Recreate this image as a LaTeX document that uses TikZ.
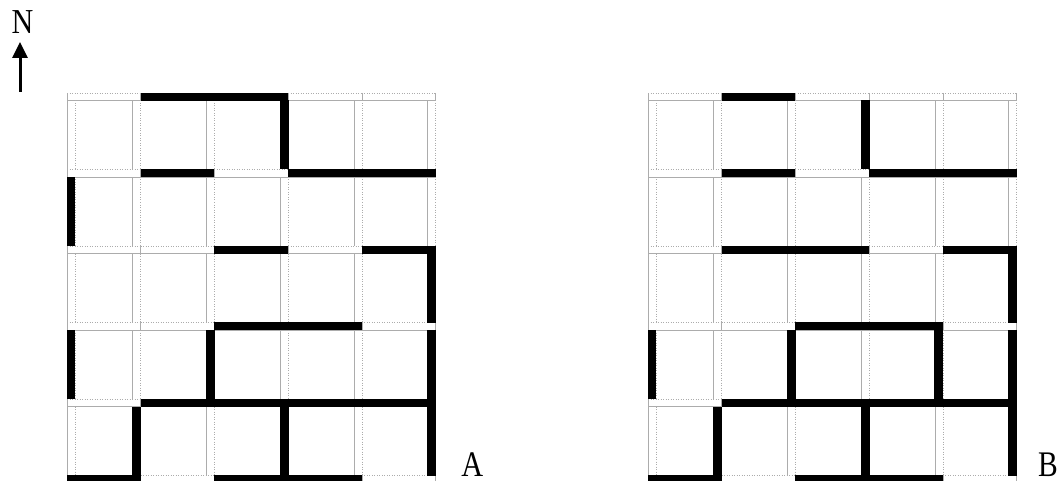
\documentclass[tikz,border=0pt]{standalone}
\usepackage{fontspec}
\setmainfont{Liberation Serif}
\usetikzlibrary{arrows.meta}
\tikzset{
  edgeS/.style={draw=gray!65, line width=0.5pt},
  edgeD/.style={draw=gray!65, line width=0.5pt, dotted},
  wallblack/.style={fill=black},
  lblN/.style={inner sep=0pt, anchor=base, font=\fontsize{35}{40}\selectfont},
  lblAB/.style={inner sep=0pt, anchor=base, font=\fontsize{36}{40}\selectfont},
  northarrow/.style={line width=3pt, -{Triangle[length=16pt,width=15pt]}},
}
\newcommand\mazegrid[3]{%
  % white vertical walls
  \foreach \i in {0,...,5}{\foreach \j in {0,...,4}{
    \pgfmathsetmacro\xa{#1+73.7*\i-ifthenelse(\i>0,8,0)}
    \pgfmathsetmacro\xb{\xa+8}
    \pgfmathsetmacro\ya{93+76.5*\j+7.5}
    \pgfmathsetmacro\yb{93+76.5*(\j+1)}
    \fill[white] (\xa,\ya) rectangle (\xb,\yb);
    \draw[edgeS] (\xa,\ya) -- (\xa,\yb);
    \draw[edgeD] (\xb,\ya) -- (\xb,\yb);
  }}
  % white horizontal walls
  \foreach \j in {0,...,5}{\foreach \i in {0,...,4}{
    \pgfmathsetmacro\xa{#1+73.7*\i}
    \pgfmathsetmacro\xb{#1+73.7*(\i+1)}
    \pgfmathsetmacro\ya{93+76.5*\j}
    \pgfmathsetmacro\yb{\ya+7.5}
    \fill[white] (\xa,\ya) rectangle (\xb,\yb);
    \draw[edgeS] (\xa,\ya) -- (\xa,\yb) -- (\xb,\yb) -- (\xb,\ya);
    \draw[edgeD] (\xa,\ya) -- (\xb,\ya);
  }}
  % black horizontal walls
  \foreach \i/\j in {#2}{
    \pgfmathsetmacro\xa{#1+73.7*\i}
    \pgfmathsetmacro\xb{#1+73.7*(\i+1)}
    \pgfmathsetmacro\ya{93+76.5*\j-0.3}
    \pgfmathsetmacro\yb{\ya+8.1}
    \fill[wallblack] (\xa,\ya) rectangle (\xb,\yb);
  }
  % black vertical walls
  \foreach \i/\j in {#3}{
    \pgfmathsetmacro\xa{#1+73.7*\i-ifthenelse(\i>0,8,0)-0.4}
    \pgfmathsetmacro\xb{\xa+8.8}
    \pgfmathsetmacro\ya{93+76.5*\j+7.5}
    \pgfmathsetmacro\yb{93+76.5*(\j+1)}
    \fill[wallblack] (\xa,\ya) rectangle (\xb,\yb);
  }
}
\begin{document}
\begin{tikzpicture}[x=1pt,y=-1pt]
\useasboundingbox (0,0) rectangle (1062,481);
% north arrow
\node[lblN] (labN) at (22.5,33.3) {\scalebox{0.86}[1]{N}};
\coordinate (arrS) at (20,92);
\coordinate (arrE) at (20,42);
\draw[northarrow] (arrS) -- (arrE);
% grid A
\mazegrid{67}{1/0,2/0,1/1,3/1,4/1,2/2,4/2,2/3,3/3,1/4,2/4,3/4,4/4,0/5,2/5,3/5}{3/0,0/1,5/2,0/3,2/3,5/3,1/4,3/4,5/4}
% grid B
\mazegrid{648}{1/0,1/1,3/1,4/1,1/2,2/2,4/2,2/3,3/3,1/4,2/4,3/4,4/4,0/5,2/5,3/5}{3/0,5/2,0/3,2/3,4/3,5/3,1/4,3/4,5/4}
% labels
\node[lblAB] (labA) at (472.4,476) {\scalebox{0.84}[1]{A}};
\node[lblAB] (labB) at (1048,476) {\scalebox{0.82}[1]{B}};
\end{tikzpicture}
\end{document}
